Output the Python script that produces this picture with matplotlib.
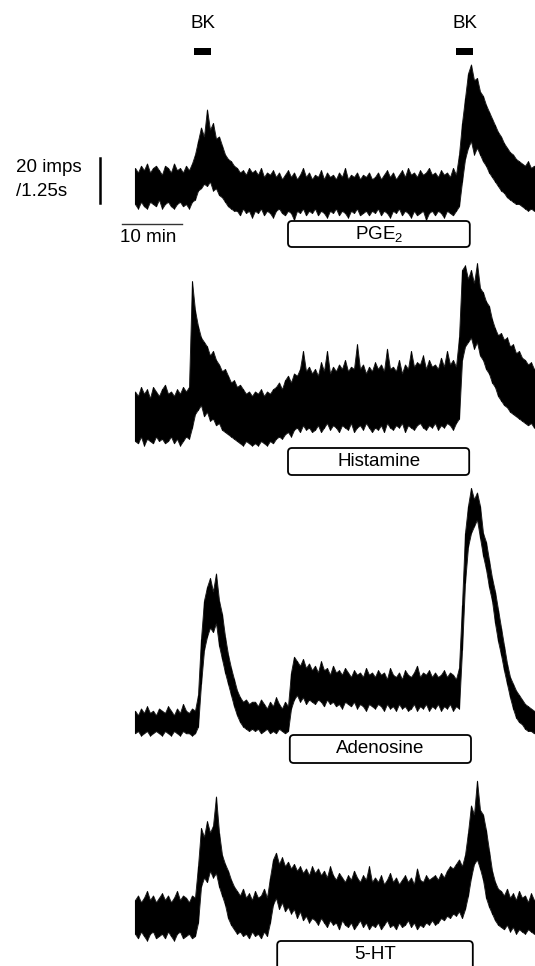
import numpy as np
import matplotlib
matplotlib.use("Agg")
import matplotlib.pyplot as plt
from matplotlib.patches import FancyBboxPatch

plt.rcParams['font.family'] = ['Liberation Sans', 'DejaVu Sans']
plt.rcParams['mathtext.fontset'] = 'custom'
plt.rcParams['mathtext.rm'] = 'Liberation Sans'

# ---------------- data ----------------
# time in minutes (one reading every half minute), firing rate in imps / 1.25 s:
# upper and lower edge of the noisy trace
time_min = np.arange(0, 67, 0.5)

pge2_upper = [24, 22, 25, 23, 26, 22, 24, 25, 23, 21, 25, 24, 22, 26, 23, 24, 22, 25, 23, 26,
              30, 36, 42, 38, 50, 41, 44, 37, 38, 34, 30, 28, 27, 25, 24, 22, 23, 21, 24, 22,
              23, 21, 24, 20, 22, 21, 23, 20, 22, 19, 21, 23, 20, 22, 19, 21, 24, 20, 22, 19,
              21, 20, 23, 19, 22, 20, 21, 19, 22, 20, 24, 19, 21, 20, 22, 19, 21, 20, 22, 19,
              20, 22, 19, 21, 23, 20, 22, 19, 21, 23, 20, 24, 21, 22, 20, 23, 21, 22, 24, 21,
              22, 20, 23, 21, 22, 20, 24, 21, 30, 44, 55, 66, 70, 63, 64, 58, 56, 52, 49, 46,
              43, 40, 38, 35, 33, 31, 30, 28, 27, 26, 25, 27, 24, 25]
pge2_lower = [8, 6, 9, 7, 6, 9, 8, 7, 10, 6, 8, 9, 7, 6, 8, 9, 7, 8, 6, 9,
              10, 14, 15, 17, 16, 18, 14, 15, 12, 11, 9, 7, 6, 5, 5, 3, 6, 4, 5, 2,
              5, 4, 6, 3, 5, 4, 2, 5, 6, 4, 3, 5, 4, 1, 5, 4, 6, 3, 5, 4,
              6, 3, 5, 4, 2, 5, 4, 6, 3, 5, 4, 2, 5, 4, 6, 3, 4, 5, 3, 5,
              4, 6, 3, 5, 4, 2, 5, 4, 6, 3, 5, 4, 2, 5, 3, 4, 5, 1, 4, 5,
              3, 5, 4, 2, 5, 4, 3, 5, 7, 18, 28, 33, 36, 30, 33, 30, 27, 25, 22, 20,
              18, 16, 14, 13, 11, 10, 9, 8, 8, 7, 6, 5, 6, 5]

hist_upper = [26, 24, 28, 25, 27, 23, 28, 26, 24, 27, 29, 25, 26, 24, 27, 25, 28, 26, 28, 75,
              62, 55, 50, 48, 46, 42, 44, 40, 38, 35, 36, 33, 30, 31, 28, 29, 27, 25, 26, 24,
              26, 25, 27, 24, 26, 25, 27, 28, 30, 27, 31, 33, 30, 34, 33, 36, 44, 35, 37, 34,
              36, 33, 39, 35, 44, 34, 37, 35, 38, 36, 40, 35, 37, 36, 47, 36, 38, 34, 37, 35,
              39, 36, 38, 35, 45, 36, 37, 35, 40, 34, 38, 36, 44, 37, 39, 38, 42, 36, 40, 37,
              38, 36, 41, 37, 44, 38, 40, 37, 50, 80, 82, 76, 80, 74, 83, 72, 70, 66, 64, 58,
              54, 51, 52, 49, 50, 46, 47, 43, 44, 41, 40, 38, 39, 36]
hist_lower = [4, 3, 6, 2, 5, 4, 3, 6, 4, 5, 3, 4, 6, 3, 5, 2, 4, 6, 5, 10,
              16, 18, 20, 15, 17, 13, 14, 11, 12, 9, 8, 7, 6, 5, 4, 3, 2, 4, 3, 2,
              3, 2, 4, 3, 2, 4, 3, 5, 6, 5, 7, 8, 6, 9, 10, 8, 11, 9, 10, 8,
              9, 11, 8, 10, 12, 9, 11, 10, 8, 11, 10, 9, 12, 8, 10, 11, 9, 12, 10, 8,
              10, 9, 11, 8, 12, 10, 9, 11, 10, 12, 8, 11, 10, 9, 11, 12, 10, 9, 11, 10,
              12, 9, 11, 10, 12, 11, 9, 12, 14, 40, 46, 48, 50, 45, 48, 42, 40, 36, 34, 30,
              28, 24, 22, 20, 19, 17, 16, 15, 14, 13, 12, 11, 12, 10]

aden_upper = [13, 11, 14, 12, 15, 12, 13, 11, 14, 13, 12, 15, 13, 11, 14, 12, 16, 13, 12, 14,
              13, 20, 45, 62, 68, 72, 66, 74, 62, 56, 46, 38, 32, 27, 22, 19, 17, 18, 16, 17,
              17, 15, 18, 16, 14, 17, 15, 19, 16, 14, 17, 15, 30, 37, 35, 33, 36, 32, 34, 31,
              33, 30, 35, 31, 32, 29, 33, 30, 31, 29, 32, 30, 28, 31, 29, 30, 28, 32, 29, 30,
              28, 31, 29, 30, 27, 32, 29, 28, 30, 27, 31, 29, 28, 30, 33, 28, 30, 29, 31, 28,
              30, 28, 29, 31, 28, 30, 29, 27, 32, 60, 92, 104, 112, 107, 110, 104, 92, 88, 80, 72,
              66, 58, 50, 42, 34, 28, 25, 22, 20, 18, 16, 15, 14, 13]
aden_lower = [3, 4, 2, 3, 4, 2, 3, 4, 3, 2, 4, 3, 2, 4, 3, 2, 4, 3, 3, 2,
              3, 6, 25, 40, 46, 50, 48, 52, 42, 36, 30, 25, 20, 15, 11, 8, 6, 5, 4, 5,
              4, 5, 3, 4, 5, 3, 4, 3, 5, 4, 3, 4, 14, 18, 20, 17, 19, 16, 18, 17,
              16, 18, 17, 15, 18, 16, 17, 15, 16, 14, 17, 16, 15, 17, 14, 16, 15, 13, 16, 15,
              14, 16, 15, 13, 16, 14, 15, 13, 16, 14, 15, 13, 14, 16, 13, 15, 14, 16, 13, 15,
              14, 16, 13, 15, 14, 16, 13, 15, 14, 40, 70, 86, 92, 95, 98, 90, 82, 76, 68, 62,
              52, 44, 38, 31, 25, 19, 14, 10, 8, 7, 5, 4, 4, 3]

ht_upper = [20, 22, 19, 21, 24, 20, 22, 19, 21, 23, 20, 22, 19, 21, 24, 20, 22, 21, 19, 22,
            21, 35, 52, 48, 55, 50, 53, 66, 50, 40, 36, 33, 29, 26, 24, 22, 25, 21, 23, 20,
            24, 21, 22, 25, 21, 30, 38, 41, 36, 39, 35, 37, 34, 36, 33, 35, 32, 34, 31, 35,
            32, 34, 31, 33, 30, 35, 31, 29, 32, 30, 28, 31, 29, 33, 30, 28, 31, 29, 35, 28,
            30, 28, 31, 27, 29, 32, 28, 30, 27, 29, 31, 28, 30, 27, 34, 29, 28, 31, 29, 30,
            31, 29, 32, 30, 33, 35, 34, 36, 38, 35, 40, 50, 62, 58, 73, 60, 58, 51, 42, 33,
            28, 25, 24, 22, 25, 21, 23, 20, 24, 21, 22, 19, 23, 20]
ht_lower = [5, 3, 6, 4, 2, 5, 6, 3, 4, 5, 3, 6, 4, 2, 5, 6, 3, 4, 5, 3,
            4, 10, 26, 30, 28, 33, 30, 32, 26, 22, 18, 12, 9, 7, 5, 6, 4, 5, 3, 6,
            4, 5, 3, 6, 4, 10, 18, 21, 16, 19, 15, 17, 14, 16, 12, 15, 11, 13, 10, 12,
            11, 9, 12, 10, 8, 11, 9, 10, 7, 11, 9, 8, 10, 7, 9, 11, 8, 10, 7, 9,
            8, 10, 7, 9, 11, 8, 9, 7, 10, 8, 9, 11, 8, 10, 7, 9, 8, 10, 9, 11,
            9, 10, 12, 11, 13, 12, 14, 13, 15, 12, 16, 22, 30, 36, 38, 34, 29, 21, 17, 14,
            11, 9, 8, 7, 9, 6, 8, 5, 7, 6, 5, 7, 6, 5]

drug_names = ['$\\mathregular{PGE_2}$', 'Histamine', 'Adenosine', '5-HT']
drug_start = [25.5, 25.5, 25.8, 23.7]
drug_end = [55.8, 55.7, 56.0, 56.3]
bk_start = [9.8, 53.5]
bk_end = [12.7, 56.3]
scale_rate = 20     # imps / 1.25 s
scale_time = 10     # min

uppers = [pge2_upper, hist_upper, aden_upper, ht_upper]
lowers = [pge2_lower, hist_lower, aden_lower, ht_lower]
for u, l in zip(uppers, lowers):
    assert len(u) == len(time_min) and len(l) == len(time_min), (len(u), len(l))

# ---------------- layout ----------------
W, H = 535, 966
fig = plt.figure(figsize=(W / 100, H / 100), dpi=100)
PX_PER_MIN = 6.0
PX_PER_IMP = 2.25
T0_PX = 135
# (top px, bottom px, zero-rate px) for each panel
panels = [(0, 250, 222), (250, 480, 450), (480, 770, 740), (770, 966, 945)]

ov = fig.add_axes([0, 0, 1, 1])
ov.set_xlim(0, W)
ov.set_ylim(H, 0)
ov.axis('off')

axes = []
for (top, bot, zero), up, lo in zip(panels, uppers, lowers):
    ax = fig.add_axes([0, 1 - bot / H, 1, (bot - top) / H])
    ax.set_xlim(-T0_PX / PX_PER_MIN, (W - T0_PX) / PX_PER_MIN)
    ax.set_ylim(-(bot - zero) / PX_PER_IMP, (zero - top) / PX_PER_IMP)
    ax.axis('off')
    ax.patch.set_alpha(0)
    ax.fill_between(time_min, lo, up, color='black', ec='#202020', lw=0.7, clip_on=False)
    ax.vlines(time_min, lo, up, color='black', lw=0.8, clip_on=False)
    axes.append(ax)


def to_px(ax, x, y):
    d = ax.transData.transform((x, y))
    return d[0], H - d[1]


# drug boxes
box_tops = [221, 448, 735, 941]
box_h = [26, 27, 28, 30]
for ax, name, s, e, bt, bh in zip(axes, drug_names, drug_start, drug_end, box_tops, box_h):
    x0, _ = to_px(ax, s, 0)
    x1, _ = to_px(ax, e, 0)
    ov.add_patch(FancyBboxPatch((x0, bt), x1 - x0, bh,
                                boxstyle='round,pad=0,rounding_size=4',
                                fc='white', ec='black', lw=1.3, clip_on=False))
    ov.text((x0 + x1) / 2, bt + 13.5, name, ha='center', va='center', fontsize=13.5)

# BK markers
ax1 = axes[0]
for s, e in zip(bk_start, bk_end):
    x0, _ = to_px(ax1, s, 0)
    x1, _ = to_px(ax1, e, 0)
    ov.add_patch(plt.Rectangle((x0, 48), x1 - x0, 7, fc='black', ec='none'))
    ov.text((x0 + x1) / 2 + 1, 23, 'BK', ha='center', va='center', fontsize=13.5)

# scale bars
ax1.plot([-5.8, -5.8], [8.4, 8.4 + scale_rate], color='black', lw=1.8, clip_on=False)
ax1.plot([-2.2, -2.2 + scale_time], [-0.9, -0.9], color='#333333', lw=1.0, clip_on=False)
ov.text(16, 168, '20 imps', ha='left', va='center', fontsize=13.5)
ov.text(16, 192, '/1.25s', ha='left', va='center', fontsize=13.5)
ov.text(120, 238, '10 min', ha='left', va='center', fontsize=13.5)

fig.savefig('out.png', dpi=100)
